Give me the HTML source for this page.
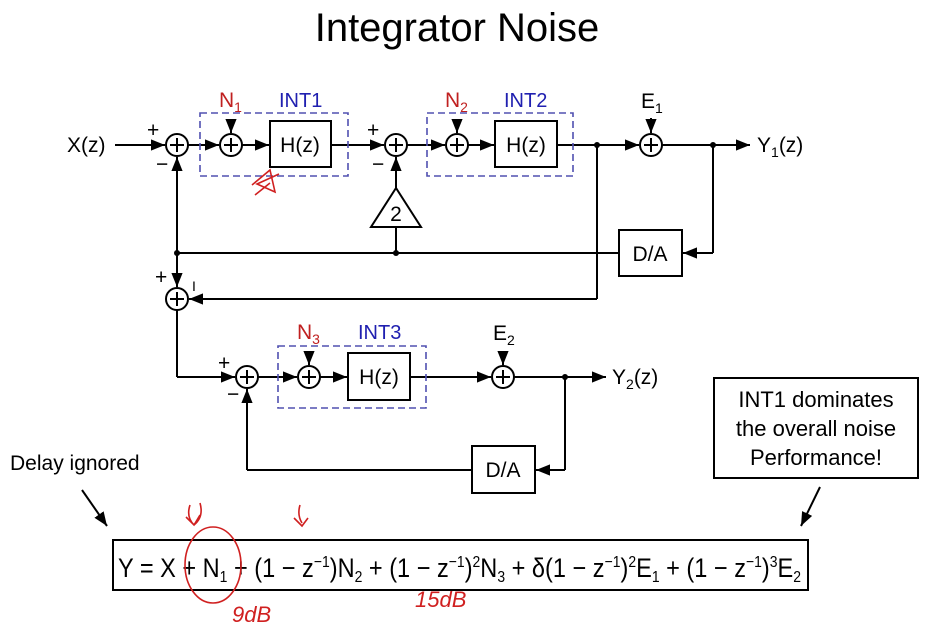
<!DOCTYPE html>
<html><head><meta charset="utf-8"><style>
html,body{margin:0;padding:0;background:#fff;}
svg{display:block;font-family:"Liberation Sans",sans-serif;}
</style></head><body>
<svg width="934" height="629" viewBox="0 0 934 629" xmlns="http://www.w3.org/2000/svg">
<defs><marker id="a" viewBox="0 0 10 10" refX="10" refY="5" markerWidth="7" markerHeight="7" orient="auto"><path d="M0,1 L10,5 L0,9 z" fill="#000"/></marker></defs>
<text x="457" y="41" font-size="40" text-anchor="middle">Integrator Noise</text>
<g stroke="#000" stroke-width="2" fill="none">
<line x1="115" y1="145" x2="165" y2="145" marker-end="url(#a)"/>
<line x1="188" y1="145" x2="219" y2="145" marker-end="url(#a)"/>
<line x1="242" y1="145" x2="269" y2="145" marker-end="url(#a)"/>
<line x1="331" y1="145" x2="384" y2="145" marker-end="url(#a)"/>
<line x1="407" y1="145" x2="445" y2="145" marker-end="url(#a)"/>
<line x1="468" y1="145" x2="494" y2="145" marker-end="url(#a)"/>
<line x1="557" y1="145" x2="639" y2="145" marker-end="url(#a)"/>
<line x1="662" y1="145" x2="750" y2="145" marker-end="url(#a)"/>
<line x1="231" y1="120" x2="231" y2="133" marker-end="url(#a)"/>
<line x1="457" y1="120" x2="457" y2="133" marker-end="url(#a)"/>
<line x1="651" y1="118" x2="651" y2="133" marker-end="url(#a)"/>
<rect x="270" y="121" width="61" height="46"/>
<rect x="495" y="121" width="62" height="46"/>
<rect x="619" y="230" width="63" height="46"/>
<line x1="177" y1="253" x2="177" y2="157" marker-end="url(#a)"/>
<line x1="177" y1="253" x2="177" y2="287" marker-end="url(#a)"/>
<line x1="177" y1="253" x2="619" y2="253"/>
<line x1="713" y1="145" x2="713" y2="253"/>
<line x1="713" y1="253" x2="683" y2="253" marker-end="url(#a)"/>
<line x1="396" y1="253" x2="396" y2="227"/>
<polygon points="396,188 371,227 421,227"/>
<line x1="396" y1="188" x2="396" y2="157" marker-end="url(#a)"/>
<line x1="597" y1="145" x2="597" y2="299"/>
<line x1="597" y1="299" x2="189" y2="299" marker-end="url(#a)"/>
<line x1="177" y1="310" x2="177" y2="377"/>
<line x1="177" y1="377" x2="235" y2="377" marker-end="url(#a)"/>
<line x1="258" y1="377" x2="297" y2="377" marker-end="url(#a)"/>
<line x1="320" y1="377" x2="347" y2="377" marker-end="url(#a)"/>
<line x1="410" y1="377" x2="491" y2="377" marker-end="url(#a)"/>
<line x1="514" y1="377" x2="606" y2="377" marker-end="url(#a)"/>
<line x1="309" y1="352" x2="309" y2="365" marker-end="url(#a)"/>
<line x1="503" y1="352" x2="503" y2="365" marker-end="url(#a)"/>
<rect x="348" y="353" width="62" height="47"/>
<rect x="472" y="446" width="63" height="47"/>
<line x1="565" y1="377" x2="565" y2="470"/>
<line x1="565" y1="470" x2="536" y2="470" marker-end="url(#a)"/>
<line x1="472" y1="470" x2="247" y2="470"/>
<line x1="247" y1="470" x2="247" y2="389" marker-end="url(#a)"/>
<rect x="714" y="378" width="204" height="100"/>
<line x1="820" y1="487" x2="801" y2="526" marker-end="url(#a)"/>
<line x1="82" y1="490" x2="107" y2="526" marker-end="url(#a)"/>
<rect x="113" y="540" width="695" height="50"/>
</g>
<g fill="#000">
<circle cx="177" cy="253" r="3"/><circle cx="396" cy="253" r="3"/><circle cx="597" cy="145" r="3"/><circle cx="713" cy="145" r="3"/><circle cx="565" cy="377" r="3"/>
</g>
<g stroke="#000" stroke-width="2" fill="#fff">
<circle cx="177" cy="145" r="11"/><circle cx="231" cy="145" r="11"/><circle cx="396" cy="145" r="11"/><circle cx="457" cy="145" r="11"/><circle cx="651" cy="145" r="11"/><circle cx="177" cy="299" r="11"/><circle cx="247" cy="377" r="11"/><circle cx="309" cy="377" r="11"/><circle cx="503" cy="377" r="11"/>
<path fill="none" d="M170,145h14M177,138v14M224,145h14M231,138v14M389,145h14M396,138v14M450,145h14M457,138v14M644,145h14M651,138v14M170,299h14M177,292v14M240,377h14M247,370v14M302,377h14M309,370v14M496,377h14M503,370v14"/>
</g>
<g stroke="#5050b0" stroke-width="1.6" fill="none" stroke-dasharray="7,4">
<rect x="200" y="113" width="148" height="63"/><rect x="427" y="113" width="146" height="63"/><rect x="278" y="346" width="148" height="62"/>
</g>
<g font-size="21">
<text x="67" y="152">X(z)</text>
<text x="757" y="152">Y<tspan font-size="14" dy="5">1</tspan><tspan dy="-5">(z)</tspan></text>
<text x="612" y="384">Y<tspan font-size="14" dy="5">2</tspan><tspan dy="-5">(z)</tspan></text>
<text x="300" y="152" text-anchor="middle">H(z)</text>
<text x="526" y="152" text-anchor="middle">H(z)</text>
<text x="379" y="384" text-anchor="middle">H(z)</text>
<text x="650" y="261" text-anchor="middle">D/A</text>
<text x="503" y="477" text-anchor="middle">D/A</text>
<text x="396" y="221" text-anchor="middle">2</text>
<text x="641" y="108">E<tspan font-size="14" dy="5">1</tspan></text>
<text x="493" y="340">E<tspan font-size="14" dy="5">2</tspan></text>
<text x="147" y="137">+</text><text x="156" y="171">−</text>
<text x="367" y="137">+</text><text x="372" y="171">−</text>
<text x="155" y="284">+</text><text x="192" y="291" font-size="14">I</text>
<text x="218" y="370">+</text><text x="227" y="401">−</text>
</g>
<g font-size="21" fill="#c02020">
<text x="219" y="107">N<tspan font-size="14" dy="5">1</tspan></text>
<text x="445" y="107">N<tspan font-size="14" dy="5">2</tspan></text>
<text x="297" y="339">N<tspan font-size="14" dy="5">3</tspan></text>
</g>
<g font-size="20" fill="#2020b0">
<text x="279" y="107">INT1</text><text x="504" y="107">INT2</text><text x="358" y="339">INT3</text>
</g>
<g font-size="22" text-anchor="middle">
<text x="816" y="407">INT1 dominates</text>
<text x="816" y="436">the overall noise</text>
<text x="816" y="465">Performance!</text>
</g>
<text x="10" y="470" font-size="21">Delay ignored</text>
<text x="118" y="577" font-size="27" textLength="683" lengthAdjust="spacingAndGlyphs">Y = X + N<tspan font-size="16" dy="5">1</tspan><tspan dy="-5"> + (1 − z</tspan><tspan font-size="16" dy="-10">−1</tspan><tspan dy="10">)N</tspan><tspan font-size="16" dy="5">2</tspan><tspan dy="-5"> + (1 − z</tspan><tspan font-size="16" dy="-10">−1</tspan><tspan dy="10">)</tspan><tspan font-size="16" dy="-10">2</tspan><tspan dy="10">N</tspan><tspan font-size="16" dy="5">3</tspan><tspan dy="-5"> + δ(1 − z</tspan><tspan font-size="16" dy="-10">−1</tspan><tspan dy="10">)</tspan><tspan font-size="16" dy="-10">2</tspan><tspan dy="10">E</tspan><tspan font-size="16" dy="5">1</tspan><tspan dy="-5"> + (1 − z</tspan><tspan font-size="16" dy="-10">−1</tspan><tspan dy="10">)</tspan><tspan font-size="16" dy="-10">3</tspan><tspan dy="10">E</tspan><tspan font-size="16" dy="5">2</tspan></text>
<g stroke="#d02020" stroke-width="1.6" fill="none">
<ellipse cx="213" cy="565" rx="28" ry="38"/>
<path d="M190,505 q-4,12 4,20 M200,503 q4,14 -6,22 M186,517 l8,8 l6,-10"/>
<path d="M300,505 q-3,10 2,18 M294,518 l8,8 l6,-8"/>
<path d="M252,185 l18,-15 l5,22 l-18,-8 l22,-10 M255,195 l15,-12"/>
<text x="232" y="622" font-size="22" fill="#d02020" stroke="none" font-style="italic">9dB</text>
<text x="415" y="607" font-size="22" fill="#d02020" stroke="none" font-style="italic">15dB</text>
</g>
</svg>
</body></html>
